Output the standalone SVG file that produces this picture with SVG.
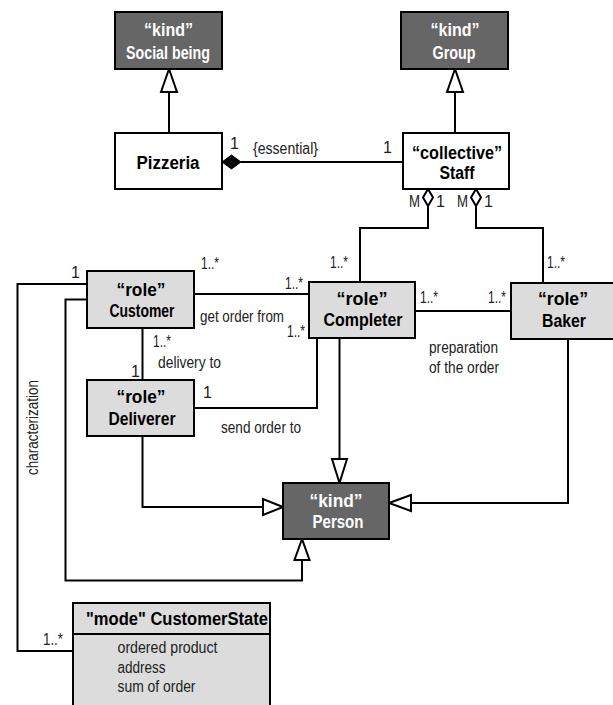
<svg xmlns="http://www.w3.org/2000/svg" width="613" height="705" viewBox="0 0 613 705">
<style>
.dk{fill:#666;stroke:#000;stroke-width:2}
.lt{fill:#dcdcdc;stroke:#000;stroke-width:2}
.wh{fill:#fff;stroke:#000;stroke-width:2}
.bw{font-family:"Liberation Sans",Arial,sans-serif;font-weight:bold;font-size:18px;fill:#fff;text-anchor:middle}
.bb{font-family:"Liberation Sans",Arial,sans-serif;font-weight:bold;font-size:18px;fill:#000;text-anchor:middle}
.lb{font-family:"Liberation Sans",Arial,sans-serif;font-size:16px;fill:#222}
.ln{fill:none;stroke:#000;stroke-width:2}
.tri{fill:#fff;stroke:#000;stroke-width:2;stroke-linejoin:miter}
</style>
<rect width="613" height="705" fill="#fff"/>
<g id="connectors">
<path class="ln" d="M169,133 V92"/>
<polygon class="tri" points="169,69 161,92 177,92"/>
<path class="ln" d="M455,133 V92"/>
<polygon class="tri" points="455,69 447,92 463,92"/>
<path class="ln" d="M241,162 H403"/>
<polygon points="222,162 231.5,155 241,162 231.5,169" fill="#000" stroke="#000" stroke-width="1"/>
<path class="ln" d="M428,206 V228 H360 V282"/>
<polygon class="tri" points="428,189 433,197.5 428,206 423,197.5"/>
<path class="ln" d="M476,206 V228 H543 V283"/>
<polygon class="tri" points="476,189 481,197.5 476,206 471,197.5"/>
<path class="ln" d="M193,294 H309"/>
<path class="ln" d="M415,311 H511"/>
<path class="ln" d="M142.5,328 V380"/>
<path class="ln" d="M193,408 H317 V338"/>
<path class="ln" d="M87,284 H17.5 V651 H73"/>
<path class="ln" d="M87,299.5 H65.5 V580.5 H302 V560"/>
<polygon class="tri" points="302,539 294.5,560 309.5,560"/>
<path class="ln" d="M142.5,436 V507 H263"/>
<polygon class="tri" points="283,507 263,499 263,515"/>
<path class="ln" d="M339.5,338 V459"/>
<polygon class="tri" points="339.5,483 332,459 347,459"/>
<path class="ln" d="M568,339 V503 H411"/>
<polygon class="tri" points="389,503 411,495 411,511"/>
</g>
<g id="labels">
<text class="lb" x="230" y="149">1</text>
<text class="lb" x="253" y="154" textLength="65" lengthAdjust="spacingAndGlyphs">{essential}</text>
<text class="lb" x="383" y="153">1</text>
<text class="lb" x="409" y="207" textLength="11" lengthAdjust="spacingAndGlyphs">M</text>
<text class="lb" x="436" y="207">1</text>
<text class="lb" x="457" y="207" textLength="11" lengthAdjust="spacingAndGlyphs">M</text>
<text class="lb" x="484" y="207">1</text>
<text class="lb" x="330" y="268" textLength="18" lengthAdjust="spacingAndGlyphs">1..*</text>
<text class="lb" x="547" y="268" textLength="18" lengthAdjust="spacingAndGlyphs">1..*</text>
<text class="lb" x="201" y="269" textLength="18" lengthAdjust="spacingAndGlyphs">1..*</text>
<text class="lb" x="285" y="289" textLength="18" lengthAdjust="spacingAndGlyphs">1..*</text>
<text class="lb" x="200" y="322" textLength="84" lengthAdjust="spacingAndGlyphs">get order from</text>
<text class="lb" x="287" y="337" textLength="18" lengthAdjust="spacingAndGlyphs">1..*</text>
<text class="lb" x="420" y="303" textLength="18" lengthAdjust="spacingAndGlyphs">1..*</text>
<text class="lb" x="488" y="303" textLength="18" lengthAdjust="spacingAndGlyphs">1..*</text>
<text class="lb" x="429" y="353" textLength="69" lengthAdjust="spacingAndGlyphs">preparation</text>
<text class="lb" x="429" y="373" textLength="70" lengthAdjust="spacingAndGlyphs">of the order</text>
<text class="lb" x="153" y="347" textLength="18" lengthAdjust="spacingAndGlyphs">1..*</text>
<text class="lb" x="158" y="368" textLength="63" lengthAdjust="spacingAndGlyphs">delivery to</text>
<text class="lb" x="131" y="377">1</text>
<text class="lb" x="203" y="398">1</text>
<text class="lb" x="221" y="433" textLength="80" lengthAdjust="spacingAndGlyphs">send order to</text>
<text class="lb" x="71" y="278">1</text>
<text class="lb" x="43" y="645" textLength="20" lengthAdjust="spacingAndGlyphs">1..*</text>
<text class="lb" x="38" y="475" transform="rotate(-90 38 475)" textLength="95" lengthAdjust="spacingAndGlyphs">characterization</text>
</g>
<g id="social-being">
<rect class="dk" x="115" y="12" width="107" height="57"/>
<text class="bw" x="168.5" y="36" textLength="49" lengthAdjust="spacingAndGlyphs">“kind”</text>
<text class="bw" x="168" y="59" textLength="84" lengthAdjust="spacingAndGlyphs">Social being</text>
</g>
<g id="group">
<rect class="dk" x="401" y="12" width="107" height="57"/>
<text class="bw" x="455" y="36" textLength="49" lengthAdjust="spacingAndGlyphs">“kind”</text>
<text class="bw" x="454" y="59" textLength="43" lengthAdjust="spacingAndGlyphs">Group</text>
</g>
<g id="pizzeria">
<rect class="wh" x="115" y="133" width="107" height="56"/>
<text class="bb" x="168" y="169" textLength="63" lengthAdjust="spacingAndGlyphs">Pizzeria</text>
</g>
<g id="staff">
<rect class="wh" x="403" y="133" width="106" height="56"/>
<text class="bb" x="457" y="159" textLength="90" lengthAdjust="spacingAndGlyphs">“collective”</text>
<text class="bb" x="457" y="179" textLength="35" lengthAdjust="spacingAndGlyphs">Staff</text>
</g>
<g id="customer">
<rect class="lt" x="87" y="271" width="107" height="57"/>
<text class="bb" x="141" y="296" textLength="49" lengthAdjust="spacingAndGlyphs">“role”</text>
<text class="bb" x="142" y="317" textLength="65" lengthAdjust="spacingAndGlyphs">Customer</text>
</g>
<g id="completer">
<rect class="lt" x="309" y="282" width="106" height="56"/>
<text class="bb" x="362" y="305" textLength="51" lengthAdjust="spacingAndGlyphs">“role”</text>
<text class="bb" x="363" y="326" textLength="79" lengthAdjust="spacingAndGlyphs">Completer</text>
</g>
<g id="baker">
<rect class="lt" x="511" y="283" width="108" height="56"/>
<text class="bb" x="563" y="305" textLength="50" lengthAdjust="spacingAndGlyphs">“role”</text>
<text class="bb" x="564" y="327" textLength="44" lengthAdjust="spacingAndGlyphs">Baker</text>
</g>
<g id="deliverer">
<rect class="lt" x="87" y="380" width="107" height="56"/>
<text class="bb" x="141" y="403" textLength="49" lengthAdjust="spacingAndGlyphs">“role”</text>
<text class="bb" x="142" y="425" textLength="67" lengthAdjust="spacingAndGlyphs">Deliverer</text>
</g>
<g id="person">
<rect class="dk" x="283" y="483" width="106" height="56"/>
<text class="bw" x="336" y="507" textLength="53" lengthAdjust="spacingAndGlyphs">“kind”</text>
<text class="bw" x="338" y="528" textLength="51" lengthAdjust="spacingAndGlyphs">Person</text>
</g>
<g id="customer-state">
<rect class="lt" x="73" y="603" width="197" height="110"/>
<path class="ln" d="M73,634 H270"/>
<text class="bb" x="86" y="625" style="text-anchor:start" textLength="182" lengthAdjust="spacingAndGlyphs">"mode" CustomerState</text>
<text class="lb" x="117.5" y="653" textLength="100" lengthAdjust="spacingAndGlyphs">ordered product</text>
<text class="lb" x="117.5" y="673" textLength="48" lengthAdjust="spacingAndGlyphs">address</text>
<text class="lb" x="117.5" y="692" textLength="78" lengthAdjust="spacingAndGlyphs">sum of order</text>
</g>
</svg>
